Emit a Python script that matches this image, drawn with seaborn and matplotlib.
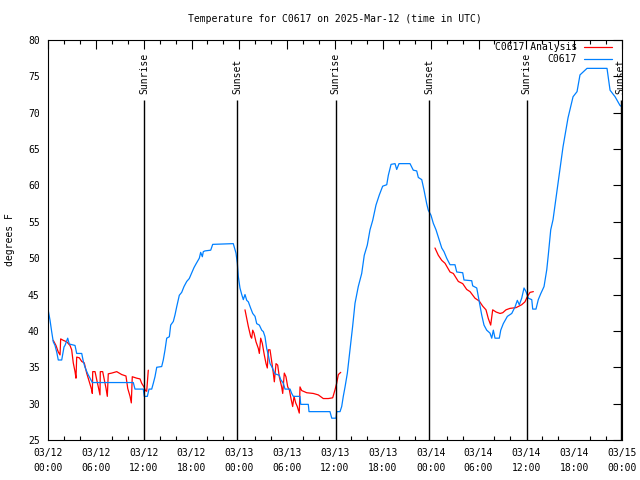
import numpy as np
import pandas as pd
import matplotlib
matplotlib.use("Agg")
import matplotlib.pyplot as plt
import matplotlib.dates as mdates
from matplotlib.lines import Line2D
import seaborn as sns

# Observed temperature, hours after 03/12 00:00 UTC
obs_hours = [0.0, 0.25, 0.46, 0.66, 0.88, 1.09, 1.29, 1.72, 2.01, 2.13,
             2.47, 2.67, 3.39, 3.60, 4.23, 4.43, 4.64, 4.98, 5.27, 5.56,
             10.70, 10.91, 11.95, 12.08, 12.46, 12.67, 13.01, 13.21, 13.42, 13.64,
             14.26, 14.46, 14.68, 14.89, 15.22, 15.39, 15.72, 15.93, 16.14, 16.47,
             16.77, 17.06, 17.40, 17.72, 18.03, 18.31, 18.56, 18.98, 19.15, 19.36,
             19.48, 19.69, 20.41, 20.66, 23.24, 23.58, 23.75, 23.87, 24.08, 24.30,
             24.50, 24.71, 24.93, 25.13, 25.43, 25.68, 25.97, 26.18, 26.51, 26.81,
             27.01, 27.22, 27.43, 27.63, 27.85, 28.06, 28.26, 28.47, 29.01, 29.19,
             29.52, 29.73, 30.36, 30.57, 30.77, 31.61, 31.70, 32.65, 32.74, 35.37,
             35.59, 36.13, 36.21, 36.63, 36.84, 37.04, 37.26, 37.55, 37.88, 38.21,
             38.51, 38.92, 39.35, 39.67, 40.05, 40.39, 40.73, 41.14, 41.56, 41.98,
             42.49, 42.69, 43.03, 43.53, 43.74, 44.03, 45.41, 45.82, 46.25, 46.45,
             46.88, 47.16, 47.50, 47.70, 48.04, 48.33, 48.67, 49.08, 49.39, 49.67,
             50.01, 50.43, 51.05, 51.27, 52.02, 52.18, 53.15, 53.27, 53.78, 54.10,
             54.40, 54.69, 55.03, 55.44, 55.66, 55.86, 56.07, 56.61, 56.79, 57.11,
             57.62, 58.17, 58.58, 58.87, 59.12, 59.42, 59.71, 59.96, 60.25, 60.68,
             60.80, 61.21, 61.50, 61.80, 62.22, 62.56, 62.76, 63.06, 63.35, 63.97,
             64.60, 65.23, 65.86, 66.36, 66.73, 67.61, 70.12, 70.50, 71.13, 71.75,
             72.0]
obs_temp = [43.0, 41.5, 39.9, 38.5, 38.0, 37.1, 36.0, 36.0, 37.8, 38.0,
            39.0, 38.2, 38.0, 36.9, 36.9, 35.8, 35.0, 34.1, 33.5, 32.9,
            32.9, 32.0, 32.0, 31.0, 31.0, 32.0, 32.0, 32.8, 33.7, 35.0,
            35.1, 36.0, 37.4, 39.0, 39.2, 40.8, 41.3, 42.2, 43.3, 44.9,
            45.3, 46.1, 46.8, 47.2, 48.0, 48.7, 49.2, 50.0, 50.8, 50.2,
            50.9, 51.0, 51.1, 51.9, 52.0, 50.7, 49.3, 47.5, 45.9, 45.0,
            44.3, 45.0, 44.2, 44.0, 43.1, 42.4, 42.0, 41.0, 40.8, 40.1,
            39.9, 39.2, 37.6, 36.7, 35.5, 35.1, 34.6, 34.1, 33.9, 33.3,
            32.8, 32.0, 32.0, 31.4, 31.0, 31.0, 29.9, 29.9, 28.9, 28.9,
            28.0, 28.0, 28.9, 28.9, 29.6, 31.0, 32.3, 34.2, 37.4, 40.6,
            43.8, 46.1, 47.9, 50.4, 51.8, 53.9, 55.2, 57.3, 58.7, 59.9,
            60.1, 61.4, 62.9, 63.0, 62.2, 63.0, 63.0, 62.1, 62.0, 61.1,
            60.8, 59.4, 57.5, 56.6, 55.9, 54.8, 53.9, 52.5, 51.4, 50.9,
            50.0, 49.1, 49.1, 48.1, 48.0, 47.0, 46.9, 46.2, 45.9, 44.0,
            42.2, 40.8, 40.1, 39.7, 39.0, 40.1, 39.0, 39.0, 40.1, 41.0,
            42.0, 42.4, 43.3, 44.2, 43.6, 44.5, 45.9, 45.4, 44.5, 44.3,
            43.0, 43.0, 44.3, 45.1, 46.1, 48.4, 50.5, 53.9, 55.3, 60.3,
            65.3, 69.3, 72.2, 72.9, 75.2, 76.1, 76.1, 73.1, 72.2, 71.0,
            70.8]

# Analysis temperature, three separate runs
ana_hours = [0.66, 1.00, 1.29, 1.51, 1.59, 1.92, 2.35, 2.76, 2.97, 3.17,
             3.39, 3.51, 3.60, 3.93, 4.23, 4.55, 4.85, 5.18, 5.48, 5.56,
             5.61, 5.90, 6.11, 6.31, 6.52, 6.56, 6.86, 7.06, 7.28, 7.44,
             7.56, 7.99, 8.62, 9.24, 9.78, 10.00, 10.29, 10.45, 10.57, 11.13,
             11.54, 11.75, 12.04, 12.21, 12.38, 12.58,
             24.71, 24.93, 25.13, 25.43, 25.55, 25.68, 25.84, 26.09, 26.38, 26.51,
             26.68, 26.88, 27.13, 27.35, 27.51, 27.64, 27.85, 28.06, 28.26, 28.39,
             28.60, 28.81, 29.01, 29.31, 29.44, 29.64, 29.85, 30.07, 30.27, 30.48,
             30.69, 30.86, 31.07, 31.27, 31.52, 31.61, 31.82, 32.45, 33.28, 33.91,
             34.53, 35.16, 35.71, 36.00, 36.21, 36.42, 36.72,
             48.54, 48.96, 49.39, 49.80, 50.43, 50.84, 51.47, 52.02, 52.52, 52.94,
             53.56, 54.10, 54.53, 54.94, 55.23, 55.53, 55.78, 56.20, 56.70, 57.04,
             57.45, 57.95, 58.71, 59.42, 59.83, 60.12, 60.46, 60.88]
ana_temp = [38.7, 38.0, 37.1, 36.7, 38.9, 38.7, 38.5, 38.0, 37.4, 35.6,
            34.4, 33.5, 36.4, 36.3, 35.8, 35.6, 34.2, 33.0, 31.9, 31.4,
            34.4, 34.4, 33.3, 32.3, 31.2, 34.4, 34.4, 33.3, 32.1, 31.0,
            34.1, 34.2, 34.4, 34.0, 33.8, 32.1, 31.0, 30.1, 33.7, 33.5,
            33.4, 32.8, 32.3, 31.8, 31.7, 34.6,
            42.9, 41.7, 40.6, 39.2, 39.0, 40.1, 39.7, 38.5, 37.6, 36.9,
            39.0, 38.3, 36.7, 35.5, 34.9, 37.4, 37.4, 35.8, 34.2, 33.0,
            35.5, 35.3, 33.7, 32.3, 31.4, 34.2, 33.7, 32.3, 31.9, 30.7,
            29.6, 31.0, 30.1, 29.6, 28.7, 32.3, 31.8, 31.5, 31.4, 31.2,
            30.7, 30.7, 30.8, 31.9, 32.8, 34.0, 34.3,
            51.4, 50.4, 49.7, 49.3, 48.1, 47.9, 46.8, 46.5, 45.7, 45.4,
            44.5, 44.1, 43.4, 42.9, 41.7, 40.8, 42.9, 42.6, 42.4, 42.5,
            42.9, 43.1, 43.2, 43.6, 44.0, 44.7, 45.3, 45.4]
ana_run = [1] * 46 + [2] * 47 + [3] * 28

# Sunrise / sunset times (UTC)
sun_times = ["2025-03-12 12:06", "2025-03-12 23:46", "2025-03-13 12:04",
             "2025-03-13 23:47", "2025-03-14 12:03", "2025-03-14 23:50"]
sun_labels = ["Sunrise", "Sunset", "Sunrise", "Sunset", "Sunrise", "Sunset"]

base = pd.Timestamp("2025-03-12 00:00")
obs = pd.DataFrame({"time": base + pd.to_timedelta(obs_hours, unit="h"),
                    "temp": obs_temp})
ana = pd.DataFrame({"time": base + pd.to_timedelta(ana_hours, unit="h"),
                    "temp": ana_temp, "run": ana_run})

sns.set_style("white")
plt.rcParams["font.family"] = ["DejaVu Sans Mono"]
plt.rcParams["font.size"] = 7
plt.rcParams["text.color"] = "black"
plt.rcParams["axes.labelcolor"] = "black"
plt.rcParams["xtick.color"] = "black"
plt.rcParams["ytick.color"] = "black"

RED = "#ff0000"
BLUE = "#0080ff"

fig = plt.figure(figsize=(6.4, 4.8), dpi=100)
ax = fig.add_axes([48 / 640, 40 / 480, 574 / 640, 400 / 480])

sns.lineplot(data=ana, x="time", y="temp", units="run", estimator=None,
             color=RED, lw=0.9, ax=ax)
sns.lineplot(data=obs, x="time", y="temp", estimator=None,
             color=BLUE, lw=0.9, ax=ax)

sun = pd.to_datetime(sun_times)
ax.vlines(sun, 25, 71.8, color="black", lw=1)
for t, lab in zip(sun, sun_labels):
    ax.text(t, 72.6, lab, rotation=90, ha="center", va="bottom", fontsize=7,
            color="black")

ax.set_xlim(base, base + pd.Timedelta(hours=72))
ax.set_ylim(25, 80)
ax.set_yticks(np.arange(25, 81, 5))
ax.xaxis.set_major_locator(mdates.HourLocator(byhour=[0, 6, 12, 18]))
ax.xaxis.set_minor_locator(mdates.HourLocator(interval=2))
ax.xaxis.set_major_formatter(mdates.DateFormatter("%m/%d\n%H:%M"))
for lab in ax.get_xticklabels():
    lab.set_linespacing(1.6)

ax.tick_params(axis="both", which="major", direction="in", length=6.5,
               width=0.8, top=True, right=True, labelsize=7,
               color="black", labelcolor="black")
ax.tick_params(axis="x", which="major", pad=6)
ax.tick_params(axis="y", which="major", pad=6)
ax.tick_params(axis="x", which="minor", direction="in", length=3.2,
               width=0.8, top=True, bottom=True, color="black")
for s in ax.spines.values():
    s.set_color("black")
    s.set_linewidth(0.8)

ax.set_xlabel("")
ax.set_ylabel("")
fig.text(10 / 640, 0.5, "degrees F", rotation=90, ha="center", va="center",
         fontsize=7, color="black")
fig.text(335 / 640, 1 - 19 / 480, "Temperature for C0617 on 2025-Mar-12 (time in UTC)",
         ha="center", va="center", fontsize=7, color="black")

handles = [Line2D([], [], color=RED, lw=0.9), Line2D([], [], color=BLUE, lw=0.9)]
leg = ax.legend(handles, ["C0617 Analysis", "C0617"], loc="upper right",
                bbox_to_anchor=((612 - 48) / 574, (440 - 42) / 400),
                frameon=False, markerfirst=False, handlelength=2.9,
                handletextpad=0.7, labelspacing=0.25, borderpad=0,
                borderaxespad=0, fontsize=7)
for txt in leg.get_texts():
    txt.set_color("black")

fig.savefig("out.png", dpi=100)
